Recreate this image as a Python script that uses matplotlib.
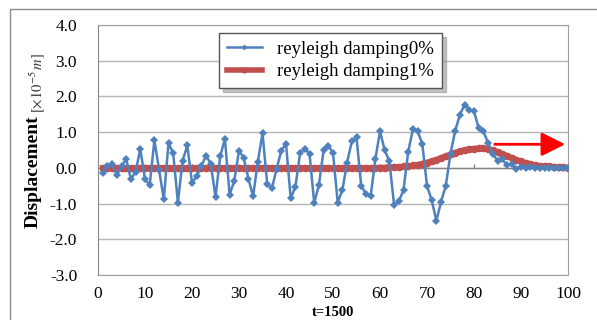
import numpy as np
import matplotlib
matplotlib.use("Agg")
import matplotlib.pyplot as plt
from matplotlib.patches import Rectangle

plt.rcParams["font.family"] = ["Liberation Serif", "DejaVu Serif"]
plt.rcParams["mathtext.fontset"] = "stix"

# time steps and displacement values (x 1e-5 m)
t = list(range(1, 101))
damp0 = [
    -0.15, 0.06, 0.11, -0.20, 0.04, 0.25, -0.32, -0.11, 0.53, -0.32,
    -0.48, 0.77, -0.06, -0.88, 0.69, 0.41, -0.97, 0.20, 0.63, -0.41,
    -0.24, 0.06, 0.34, 0.11, -0.82, 0.32, 0.82, -0.75, -0.36, 0.48,
    0.28, -0.30, -0.80, 0.17, 0.97, -0.45, -0.57, -0.03, 0.48, 0.68,
    -0.85, -0.53, 0.42, 0.53, 0.40, -0.98, -0.48, 0.49, 0.62, 0.42,
    -0.97, -0.62, 0.15, 0.74, 0.86, -0.50, -0.73, -0.80, 0.24, 1.02,
    0.50, 0.18, -1.04, -0.94, -0.62, 0.45, 1.08, 1.03, 0.67, -0.50,
    -0.91, -1.48, -0.95, -0.50, 0.40, 1.04, 1.49, 1.77, 1.63, 1.58,
    1.11, 1.02, 0.70, 0.40, 0.20, 0.25, 0.07, 0.10, -0.03, 0.02,
    -0.01, 0.02, 0.00, 0.01, 0.00, 0.00, 0.00, 0.00, 0.00, 0.00,
]
damp1 = [0.0] * 58 + [
    0.005, 0.01, 0.01, 0.02, 0.02, 0.03, 0.04, 0.05, 0.07, 0.09,
    0.12, 0.15, 0.19, 0.23, 0.28, 0.33, 0.38, 0.43, 0.47, 0.50,
    0.53, 0.54, 0.55, 0.55, 0.53, 0.50, 0.45, 0.40, 0.34, 0.28,
    0.23, 0.18, 0.14, 0.11, 0.08, 0.06, 0.05, 0.04, 0.03, 0.02,
    0.02, 0.01,
]
xticks = list(range(0, 101, 10))
yticks = [-3.0, -2.0, -1.0, 0.0, 1.0, 2.0, 3.0, 4.0]

W, H = 597, 320
fig = plt.figure(figsize=(W / 100, H / 100), dpi=100, facecolor="white")
ax = fig.add_axes([98 / W, 1 - 275 / H, (568 - 98) / W, (275 - 25) / H])

# outer chart border
fig.patches.append(Rectangle((10 / W, -0.05), 1.0, 1 - 9 / H + 0.05,
                             transform=fig.transFigure, fill=False,
                             edgecolor="#8c8c8c", linewidth=1.0))

ax.plot(t, damp1, color="#C0504D", lw=4, marker="o", ms=5.5,
        markeredgewidth=0, label="reyleigh damping1%", zorder=3)
ax.plot(t, damp0, color="#4F81BD", lw=1.8, marker="D", ms=3.8,
        markeredgewidth=0, label="reyleigh damping0%", zorder=4)

ax.set_xlim(0, 100)
ax.set_ylim(-3, 4)
ax.set_xticks(xticks)
ax.set_yticks(yticks)
ax.set_yticklabels([f"{v:.1f}" for v in yticks], fontsize=12.5)
ax.set_xticklabels([str(v) for v in xticks], fontsize=12.5)
ax.tick_params(axis="both", length=0)
ax.tick_params(axis="y", pad=15)
ax.tick_params(axis="x", pad=8)
ax.grid(axis="y", color="#b4b4b4", linewidth=1.0)
ax.set_axisbelow(True)
for side in ["top", "right", "bottom"]:
    ax.spines[side].set_color("#a0a0a0")
ax.spines["left"].set_color("#868686")

# horizontal axis at zero with tick marks
ax.axhline(0, color="#868686", lw=1.0, zorder=2)
ax.vlines(xticks, 0, 0.11, color="#868686", lw=1.0, zorder=2)

ax.annotate("", xy=(99.4, 0.66), xytext=(84.4, 0.66),
            arrowprops=dict(arrowstyle="-|>,head_length=1.0,head_width=0.5",
                            color="#FF0000", lw=2, mutation_scale=14.5,
                            shrinkA=0, shrinkB=0), zorder=5)

handles, labels = ax.get_legend_handles_labels()
leg = fig.legend(handles[::-1], labels[::-1], loc="upper left",
                 bbox_to_anchor=(219 / W, 1 - 33 / H), borderaxespad=0,
                 fontsize=13.5, fancybox=False,
                 shadow={"color": "#9a9a9a", "ox": 3, "oy": -3, "alpha": 0.6},
                 edgecolor="#555555", handlelength=1.9, labelspacing=0.3,
                 borderpad=0.4, markerscale=0.8)
leg.get_frame().set_linewidth(1.0)

fig.text(33 / W, 1 - 171.5 / H, "Displacement", rotation=90, ha="center",
         va="center", fontsize=14, fontweight="bold")
fig.text(37 / W, 1 - 83 / H, r"$[\times10^{-5}\,m]$", rotation=90,
         ha="center", va="center", fontsize=10.5, color="#333333")
fig.text(333 / W, 1 - 313 / H, "t=1500", ha="center", va="center",
         fontsize=10.5, fontweight="bold")

fig.savefig("out.png", dpi=100, facecolor="white")
